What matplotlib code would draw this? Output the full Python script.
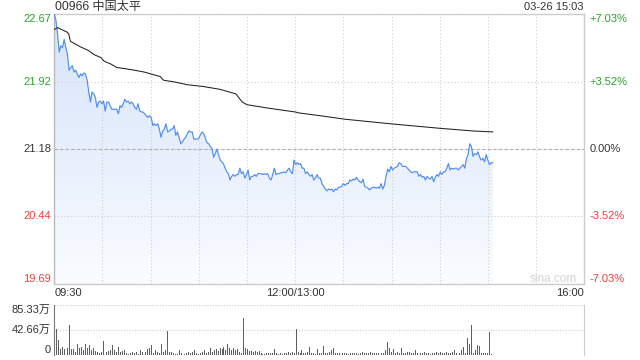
import numpy as np
import matplotlib
matplotlib.use("Agg")
import matplotlib.pyplot as plt
from matplotlib.colors import LinearSegmentedColormap

plt.rcParams['font.family'] = ['Liberation Sans', 'Noto Sans CJK SC', 'DejaVu Sans']

# ---- data ----
stock_label = "00966 中国太平"
time_label = "03-26 15:03"
prev_close = 21.18
pct_range = 7.03
end_minute = 273          # 15:03 on the trading-minute axis (lunch removed)

# last price, sampled roughly once a minute from 09:30 to 15:03
prices = [
    22.67, 22.60, 22.45, 22.25, 22.32, 22.30, 22.39, 22.30, 22.23, 22.05,
    22.08, 22.10, 22.03, 22.05, 22.01, 21.97, 22.01, 21.99, 22.02, 22.01,
    21.94, 21.81, 21.70, 21.81, 21.79, 21.75, 21.64, 21.70, 21.71, 21.68,
    21.71, 21.60, 21.70, 21.70, 21.66, 21.62, 21.62, 21.62, 21.62, 21.57,
    21.66, 21.64, 21.68, 21.73, 21.70, 21.71, 21.68, 21.70, 21.68, 21.64,
    21.62, 21.68, 21.60, 21.59, 21.59, 21.57, 21.55, 21.53, 21.55, 21.53,
    21.44, 21.46, 21.44, 21.46, 21.40, 21.31, 21.38, 21.40, 21.46, 21.37,
    21.38, 21.40, 21.40, 21.44, 21.33, 21.37, 21.31, 21.24, 21.26, 21.29,
    21.31, 21.35, 21.38, 21.37, 21.37, 21.29,
    21.29, 21.29, 21.30, 21.34, 21.37, 21.35, 21.30, 21.25, 21.24, 21.21,
    21.19, 21.09, 21.13, 21.18, 21.12, 21.06, 21.04, 21.02, 20.97, 20.93,
    20.91, 20.84, 20.88, 20.90, 20.88, 20.90, 20.90, 20.97, 20.91, 20.93,
    20.86, 20.90, 20.95, 20.84, 20.88, 20.88, 20.90, 20.88, 20.91, 20.91,
    20.91, 20.90, 20.91, 20.90, 20.91, 20.86, 20.84, 20.90, 20.97, 20.90,
    20.91, 20.91, 20.92, 20.92, 20.93, 20.92, 20.95, 20.97, 20.93, 20.91,
    21.06, 21.01, 21.03, 21.01, 21.02, 20.97, 20.97, 20.91, 20.93, 20.90,
    20.88, 20.90, 20.84, 20.86, 20.90, 20.86, 20.86, 20.80, 20.77, 20.74,
    20.72, 20.74, 20.73, 20.74, 20.71, 20.74, 20.73, 20.76,
    20.76, 20.77, 20.80, 20.78, 20.80, 20.80, 20.84, 20.83, 20.85, 20.84,
    20.87, 20.84, 20.82, 20.81, 20.85, 20.77, 20.76, 20.75, 20.73, 20.75,
    20.76, 20.76, 20.75, 20.76, 20.75, 20.80, 20.74, 20.78, 20.88, 20.96,
    20.93, 20.99, 20.95, 20.97, 20.98, 20.99, 21.03, 21.02, 20.99, 20.99,
    20.99, 20.97, 20.95, 20.93, 20.92, 20.93, 20.93, 20.93, 20.88, 20.90,
    20.87, 20.88, 20.84, 20.88, 20.86, 20.85, 20.88, 20.82, 20.87, 20.90,
    20.88, 20.93, 20.90, 20.93, 20.93, 20.97, 21.02, 20.95, 20.97, 20.96,
    20.97, 20.97, 20.95, 20.97, 20.99, 21.01, 20.97, 21.08, 21.12, 21.24,
    21.21, 21.10, 21.13, 21.12, 21.15, 21.09, 21.06, 21.08, 21.04, 21.12,
    21.06, 21.01, 21.03, 21.03,
]

# average price line (minute, price)
avg_minutes = [0, 2, 8, 9, 10, 12, 16, 21, 25, 29, 31, 35, 39, 43, 50, 56, 60,
               66, 68, 75, 83, 93, 103, 113, 117, 120, 134, 150, 152, 165, 181,
               209, 240, 261, 273]
avg_prices = [22.50, 22.52, 22.47, 22.45, 22.37, 22.35, 22.31, 22.27, 22.22,
              22.19, 22.15, 22.12, 22.08, 22.07, 22.05, 22.03, 22.01, 21.98,
              21.94, 21.92, 21.89, 21.87, 21.84, 21.79, 21.70, 21.67, 21.63,
              21.59, 21.58, 21.55, 21.51, 21.46, 21.41, 21.38, 21.37]

# volume in 万 shares
volumes = [
    85.3, 43.8, 25.6, 9.7, 13.1, 9.7, 14.2, 11.4, 51.2, 9.7, 9.7, 5.7, 18.8,
    11.4, 14.2, 8.5, 18.8, 11.4, 17.1, 8.5, 11.4, 7.4, 5.7, 4.0, 5.7, 24.5,
    11.4, 5.7, 7.4, 8.5, 17.1, 8.5, 5.7, 13.1, 5.7, 7.4, 8.5, 2.8, 1.7, 4.0,
    5.7, 2.8, 5.7, 1.7, 8.5, 5.7, 8.5, 5.7, 9.7, 11.4, 17.1, 2.8, 8.5, 5.7,
    4.0, 18.8, 5.7, 8.5, 41.5, 5.7, 5.7, 2.8, 1.7, 1.7, 8.5, 4.0, 2.8, 1.7,
    4.0, 5.7, 4.0, 5.7, 8.5, 2.8, 1.7, 4.0, 5.7, 8.5, 2.8, 5.7, 11.4, 5.7,
    8.5, 9.7, 7.4, 11.4, 9.7, 14.2, 8.5, 18.8, 11.4, 8.5, 11.4, 8.5, 9.7,
    5.7, 2.8, 63.7, 11.4, 9.7, 7.4, 7.4, 5.7, 7.4, 5.7, 7.4, 2.8, 1.7, 1.7,
    2.8, 2.8, 4.0, 2.8,
    9.7, 4.0, 1.7, 2.8, 1.7, 4.0, 2.8, 5.7, 2.8, 5.7, 4.0, 43.8, 5.7, 4.0,
    8.5, 4.0, 2.8, 5.7, 13.1, 2.8, 2.8, 1.7, 9.7, 2.8, 4.0, 15.4, 4.0, 2.8,
    5.7, 8.5, 11.4, 2.8, 4.0, 2.8, 4.0, 2.8, 4.0, 2.8, 1.7, 2.8, 4.0, 2.8,
    4.0, 1.7, 4.0, 5.7, 4.0, 2.8, 4.0, 5.7, 2.8, 4.0, 2.8, 4.0, 5.7, 4.0,
    2.8, 8.5, 22.8, 11.4, 5.7, 9.7, 2.8, 5.7, 4.0, 11.4, 4.0, 2.8, 5.7, 5.7,
    4.0, 2.8, 8.5, 4.0, 1.7, 4.0, 2.8, 5.7, 4.0, 2.8, 1.7, 4.0, 2.8, 5.7,
    2.8, 5.7, 4.0, 2.8, 5.7, 4.0, 2.8, 5.7, 8.5, 4.0, 5.7, 2.8, 8.5, 14.2,
    2.8, 28.4, 18.8, 51.2, 2.8, 8.5, 17.1, 15.4, 2.8, 4.0, 2.8, 4.0, 39.8,
    1.7,
]
vol_ticks = [0, 42.66, 85.33]
vol_tick_labels = ["0", "42.66万", "85.33万"]

price_ticks = [22.67, 21.92, 21.18, 20.44, 19.69]
pct_labels = ["+7.03%", "+3.52%", "0.00%", "-3.52%", "-7.03%"]
x_tick_minutes = [0, 150, 330]
x_tick_labels = ["09:30", "12:00/13:00", "16:00"]

GREEN = '#2aa52a'
RED = '#f03c3c'
DARK = '#333333'
tick_colors = [GREEN, GREEN, DARK, RED, RED]

ymin = prev_close * (1 - pct_range / 100)
ymax = prev_close * (1 + pct_range / 100)
t = np.linspace(0, end_minute, len(prices))
tv = np.linspace(0, end_minute - 1, len(volumes))

fig = plt.figure(figsize=(6.4, 3.6), dpi=100)
ax = fig.add_axes([54.3 / 640, 1 - 284.3 / 360, 530 / 640, 270.3 / 360])
axv = fig.add_axes([54.3 / 640, 1 - 355 / 360, 530 / 640, 50 / 360])

# price panel
ax.set_xlim(0, 330)
ax.set_ylim(ymin, ymax)
ax.set_xticks(np.arange(0, 331, 30))
ax.set_yticks(price_ticks)
ax.tick_params(length=0, labelbottom=False, labelleft=False)
ax.grid(True, ls=(0, (1, 2)), color='#cfcfcf', lw=0.8)
ax.axhline(prev_close, ls=(0, (3, 2)), color='#b0b0b0', lw=0.8)
for s in ax.spines.values():
    s.set_color('#cccccc')
    s.set_linewidth(1)
ax.spines['left'].set_color('#bbbbbb')

fill = ax.fill_between(t, prices, ymin, color='none', lw=0)
cmap = LinearSegmentedColormap.from_list('fade', ['#fafcff', '#d5e3fa'])
grad = ax.imshow(np.linspace(0, 1, 256).reshape(-1, 1), cmap=cmap,
                 aspect='auto', extent=[0, 330, ymin, ymax], origin='lower',
                 zorder=1)
grad.set_clip_path(fill.get_paths()[0], transform=ax.transData)
ax.plot(t, prices, color='#4f8ef0', lw=0.85, zorder=3)
ax.plot(avg_minutes, avg_prices, color='#222222', lw=0.75, zorder=3)

for val, lab, pct, col, va in zip(price_ticks, [f"{p:.2f}" for p in price_ticks],
                                  pct_labels, tick_colors,
                                  ['top', 'center', 'center', 'center', 'bottom']):
    ax.annotate(lab, xy=(0, val), xycoords=('axes fraction', 'data'),
                xytext=(-2.4, 0), textcoords='offset points', ha='right',
                va=va, color=col, fontsize=8)
    ax.annotate(pct, xy=(1, val), xycoords=('axes fraction', 'data'),
                xytext=(4, 0), textcoords='offset points', ha='left',
                va=va, color=col, fontsize=8)

for m, lab, ha in zip(x_tick_minutes, x_tick_labels, ['left', 'center', 'right']):
    ax.annotate(lab, xy=(m, 0), xycoords=('data', 'axes fraction'),
                xytext=(0, -6.6), textcoords='offset points', ha=ha,
                va='center', color=DARK, fontsize=8)

# volume panel
axv.set_xlim(0, 330)
axv.set_ylim(0, 85.33)
axv.bar(tv, volumes, width=0.6, color='#5f5f5f', lw=0)
axv.set_xticks([])
axv.set_yticks([])
for v in vol_ticks:
    axv.axhline(v, ls=(0, (1, 1.5)), color='#cfcfcf', lw=0.8, zorder=0)
for side in ['top', 'bottom']:
    axv.spines[side].set_visible(False)
axv.spines['left'].set_color('#777777')
axv.spines['right'].set_color('#cccccc')
for v, lab, va in zip(vol_ticks, vol_tick_labels, ['bottom', 'center', 'top']):
    axv.annotate(lab, xy=(0, v), xycoords=('axes fraction', 'data'),
                 xytext=(-2.4, 0), textcoords='offset points', ha='right',
                 va=va, color=DARK, fontsize=8)

fig.text(55 / 640, 1 - 7 / 360, stock_label, ha='left', va='center',
         color=DARK, fontsize=8.7)
fig.text(584 / 640, 1 - 7 / 360, time_label, ha='right', va='center',
         color=DARK, fontsize=8)
fig.text(553 / 640, 1 - 279 / 360, "sina.com", ha='center', va='center',
         color='#d4d4d4', fontsize=8.5)

fig.savefig("out.png", dpi=100)
